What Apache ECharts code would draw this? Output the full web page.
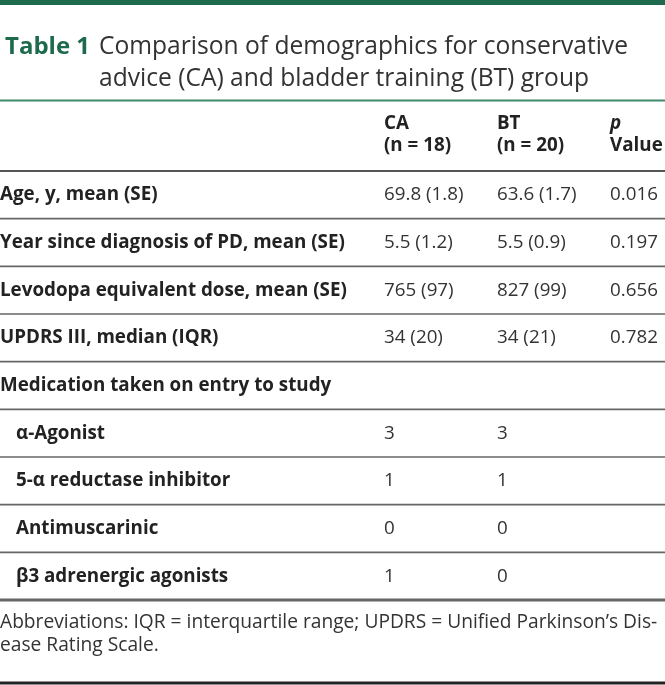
<!DOCTYPE html>
<html><head><meta charset="utf-8">
<script src="https://cdn.jsdelivr.net/npm/echarts@6/dist/echarts.min.js"></script>
<style>html,body{margin:0;padding:0;background:#fff}#c{width:665px;height:685px}</style>
</head><body><div id="c"></div>
<script>
const titleLabel = 'Table 1';
const titleLines = ['Comparison of demographics for conservative', 'advice (CA) and bladder training (BT) group'];
const headerTop = ['CA', 'BT', 'p'];
const headerBottom = ['(n = 18)', '(n = 20)', 'Value'];
const rowLabels = ['Age, y, mean (SE)', 'Year since diagnosis of PD, mean (SE)', 'Levodopa equivalent dose, mean (SE)', 'UPDRS III, median (IQR)', 'Medication taken on entry to study', 'α-Agonist', '5-α reductase inhibitor', 'Antimuscarinic', 'β3 adrenergic agonists'];
const rowIndent = [0, 0, 0, 0, 0, 1, 1, 1, 1];
const caValues = ['69.8 (1.8)', '5.5 (1.2)', '765 (97)', '34 (20)', '', '3', '1', '0', '1'];
const btValues = ['63.6 (1.7)', '5.5 (0.9)', '827 (99)', '34 (21)', '', '3', '1', '0', '0'];
const pValues = ['0.016', '0.197', '0.656', '0.782', '', '', '', '', ''];
const footnote = 'Abbreviations: IQR = interquartile range; UPDRS = Unified Parkinson’s Dis-\nease Rating Scale.';

// layout (styles, not data)
const W = 665;
const colX = [0, 384, 497, 610];
const indentPx = 16;
const FONT = '"Open Sans", "Noto Sans", sans-serif';
const green = '#1d6b4c';
const textDark = '#222';
const textReg = '#333';
const cellSize = 18.8;

const chart = echarts.init(document.getElementById('c'), null, {renderer: 'canvas'});

const graphics = [
  {type: 'rect', shape: {x: 0, y: 0, width: W, height: 5}, style: {fill: green}},
  {type: 'text', x: 5, y: 47, style: {text: titleLabel, font: 'bold 24px ' + FONT, fill: green, verticalAlign: 'middle'}},
  {type: 'text', x: 99, y: 47, style: {text: titleLines[0], font: '24.6px ' + FONT, fill: textReg, verticalAlign: 'middle'}},
  {type: 'text', x: 99, y: 79, style: {text: titleLines[1], font: '24.6px ' + FONT, fill: textReg, verticalAlign: 'middle'}},
  {type: 'line', shape: {x1: 0, y1: 100.5, x2: W, y2: 100.5}, style: {stroke: '#3f8a6a', lineWidth: 2}},
  {type: 'line', shape: {x1: 0, y1: 171, x2: W, y2: 171}, style: {stroke: '#555', lineWidth: 2}},
  {type: 'text', x: 0, y: 634, style: {text: footnote, font: '19.2px ' + FONT, fill: textReg, verticalAlign: 'middle', lineHeight: 23}},
  {type: 'line', shape: {x1: 0, y1: 683, x2: W, y2: 683}, style: {stroke: '#222', lineWidth: 3}}
];
headerTop.forEach((t, i) => {
  graphics.push({type: 'text', x: colX[i + 1], y: 124, style: {text: t, font: (i === 2 ? 'italic ' : '') + 'bold ' + cellSize + 'px ' + FONT, fill: textDark, verticalAlign: 'middle'}});
  graphics.push({type: 'text', x: colX[i + 1], y: 146, style: {text: headerBottom[i], font: 'bold ' + cellSize + 'px ' + FONT, fill: textDark, verticalAlign: 'middle'}});
});

const rows = rowLabels.map((_, i) => [0, i]);

chart.setOption({
  animation: false,
  grid: {left: 0, right: 0, top: 171, bottom: 85},
  xAxis: {type: 'value', min: 0, max: W, show: false},
  yAxis: {type: 'category', inverse: true, data: rowLabels.map((_, i) => i), show: false},
  graphic: graphics,
  series: [{
    type: 'custom',
    data: rows,
    encode: {x: 0, y: 1},
    renderItem: function (params, api) {
      const i = api.value(1);
      const p = api.coord([0, i]);
      const band = api.size([0, 1])[1];
      const yc = p[1];
      const yb = yc + band / 2;
      const cells = [rowLabels[i], caValues[i], btValues[i], pValues[i]];
      const children = cells.map((t, c) => ({
        type: 'text',
        x: api.coord([colX[c] + (c === 0 ? rowIndent[i] * indentPx : 0), i])[0],
        y: yc,
        style: {text: t, font: (c === 0 ? 'bold ' : '') + cellSize + 'px ' + FONT, fill: c === 0 ? textDark : textReg, verticalAlign: 'middle'}
      }));
      const last = i === rowLabels.length - 1;
      children.push({
        type: 'line',
        shape: {x1: 0, y1: yb, x2: W, y2: yb},
        style: {stroke: '#666', lineWidth: last ? 3 : 1.6}
      });
      return {type: 'group', children: children};
    }
  }]
});
</script></body></html>
